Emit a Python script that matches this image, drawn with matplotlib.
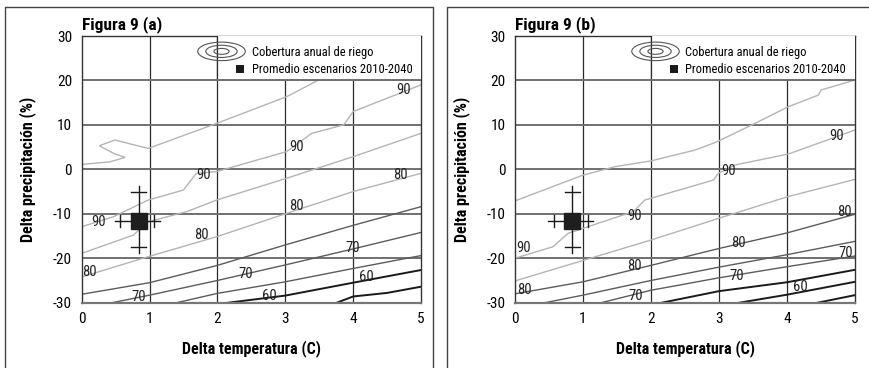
import matplotlib
matplotlib.use("Agg")
import matplotlib.pyplot as plt
from matplotlib.legend_handler import HandlerBase
from matplotlib.lines import Line2D
from matplotlib.patches import Ellipse, Rectangle

plt.rcParams["font.family"] = ["Roboto Condensed", "DejaVu Sans"]
plt.rcParams["axes.unicode_minus"] = False

# ---- panel (a): contour lines of annual irrigation coverage (%) ----
a95_t = [0, 0.42, 0.64, 0.49, 0.26, 0.49, 0.98, 1.99, 3.02, 3.51]
a95_p = [1.1, 1.7, 2.7, 3.45, 5.3, 6.6, 4.7, 10.35, 16.35, 20.25]
a90_t = [0, 0.47, 0.98, 1.5, 1.69, 1.99, 3.02, 3.39, 3.86, 4.0, 5.0]
a90_p = [-12.9, -10.65, -6.9, -4.65, -0.9, -0.5, 4.0, 8.1, 10.0, 13.0, 19.0]
a85_t = [0, 0.76, 0.98, 1.55, 1.99, 3.02, 4.0, 5.0]
a85_p = [-18.9, -14.8, -11.8, -9.5, -6.9, -2.0, 2.85, 8.1]
a80_t = [0, 0.98, 1.99, 3.02, 4.0, 5.0]
a80_p = [-24.2, -19.65, -15.15, -9.9, -5.0, -0.9]
a75_t = [0, 1.0, 2.0, 3.0, 4.0, 5.0]
a75_p = [-28.1, -25.5, -21.6, -17.0, -12.6, -8.4]
a70_t = [0.45, 1.0, 2.0, 3.0, 4.0, 5.0]
a70_p = [-30, -28.3, -25.0, -21.5, -17.9, -14.2]
a65_t = [1.4, 2.0, 3.0, 4.0, 5.0]
a65_p = [-30, -27.9, -25.3, -22.3, -19.4]
a60_t = [2.16, 3.0, 4.0, 5.0]
a60_p = [-30, -28.4, -25.5, -22.65]
a55_t = [3.76, 4.0, 4.5, 5.0]
a55_p = [-30, -28.6, -27.8, -26.4]

a_lab_t = [0.25, 1.8, 3.17, 4.74, 0.12, 1.77, 3.16, 4.69, 0.84, 2.41, 4.0, 2.77, 4.2]
a_lab_p = [-11.8, -1.3, 5.1, 17.85, -23.0, -14.7, -8.3, -1.3, -28.7, -23.5, -17.7, -28.6, -24.2]
a_lab_txt = ["90", "90", "90", "90", "80", "80", "80", "80", "70", "70", "70", "60", "60"]

# ---- panel (b) ----
b95_t = [0, 1.0, 1.47, 2.0, 2.65, 2.97, 3.53, 4.02, 4.46, 4.5, 5.0]
b95_p = [-7.1, -1.3, 0.6, 1.9, 4.35, 6.2, 10.35, 14.1, 16.7, 17.85, 20.1]
b90_t = [0, 0.56, 0.78, 1.74, 1.91, 2.92, 2.99, 3.24, 4.02, 5.0]
b90_p = [-20.0, -17.4, -14.4, -9.5, -6.9, -2.4, -0.9, 1.0, 3.45, 8.85]
b85_t = [0, 1.0, 2.0, 3.0, 4.0, 5.0]
b85_p = [-25.1, -20.5, -15.9, -11.0, -6.2, -2.25]
b80_t = [0, 1.0, 2.0, 3.0, 4.0, 5.0]
b80_p = [-28.0, -25.3, -21.6, -17.8, -14.3, -10.1]
b75_t = [0.44, 1.0, 2.0, 3.0, 4.0, 5.0]
b75_p = [-30, -28.3, -25.0, -22.0, -19.2, -16.2]
b70_t = [1.27, 2.0, 3.0, 4.0, 5.0]
b70_p = [-30, -27.2, -24.4, -21.9, -19.5]
b65_t = [2.16, 3.0, 4.0, 5.0]
b65_p = [-30, -27.4, -25.4, -22.6]
b60_t = [3.3, 4.0, 5.0]
b60_p = [-30, -28.2, -25.3]
b55_t = [4.45, 5.0]
b55_p = [-30, -28.3]

b_lab_t = [0.13, 1.76, 3.14, 4.73, 0.14, 1.76, 3.28, 4.84, 1.78, 3.26, 4.86, 4.19]
b_lab_p = [-17.6, -10.6, -0.3, 7.5, -27.2, -21.8, -16.65, -9.7, -28.5, -24.0, -18.75, -26.55]
b_lab_txt = ["90", "90", "90", "90", "80", "80", "80", "80", "70", "70", "70", "60"]

# scenario mean 2010-2040 and its range (same in both panels)
mean_t, mean_p = 0.84, -11.6
range_t = [0.57, 1.07]
range_p = [-17.4, -5.2]

LIGHT, DARK, BLACK = "#b4b4b4", "#5c5c5c", "#1a1a1a"

panel_a = [
    (a95_t, a95_p, LIGHT), (a90_t, a90_p, LIGHT), (a85_t, a85_p, LIGHT),
    (a80_t, a80_p, LIGHT), (a75_t, a75_p, DARK), (a70_t, a70_p, DARK),
    (a65_t, a65_p, DARK), (a60_t, a60_p, BLACK), (a55_t, a55_p, BLACK),
]
panel_b = [
    (b95_t, b95_p, LIGHT), (b90_t, b90_p, LIGHT), (b85_t, b85_p, LIGHT),
    (b80_t, b80_p, DARK), (b75_t, b75_p, DARK), (b70_t, b70_p, DARK),
    (b65_t, b65_p, BLACK), (b60_t, b60_p, BLACK), (b55_t, b55_p, BLACK),
]


class HandlerRings(HandlerBase):
    def create_artists(self, legend, orig_handle, xdescent, ydescent, width, height, fontsize, trans):
        cx, cy = width / 2 - xdescent, height / 2 - ydescent
        return [
            Ellipse((cx, cy), width * s, height * 1.4 * s, fill=False, ec="#555555", lw=0.8, transform=trans)
            for s in (1.0, 0.66, 0.32)
        ]


class HandlerSquare(HandlerBase):
    def create_artists(self, legend, orig_handle, xdescent, ydescent, width, height, fontsize, trans):
        side = height * 0.62
        x0 = width - xdescent - side - 1
        return [Rectangle((x0, height / 2 - ydescent - side / 2), side, side, fc=BLACK, ec="none", transform=trans)]


def draw_panel(ax, lines, lab_t, lab_p, lab_txt, title):
    ax.set_xlim(0, 5)
    ax.set_ylim(-30, 30)
    ax.set_xticks(range(0, 6))
    ax.set_yticks(range(-30, 31, 10))
    ax.tick_params(length=0, labelsize=11, pad=7)
    for v in range(1, 5):
        ax.axvline(v, color="#2a2a2a", lw=0.9, zorder=1)
    for v in range(-20, 30, 10):
        ax.axhline(v, color="#707070", lw=1.4, zorder=1)
    for s in ax.spines.values():
        s.set_color("#333333")
        s.set_linewidth(1.0)
    ax.spines["bottom"].set_color("#777777")
    ax.spines["bottom"].set_linewidth(1.6)

    for t, p, c in lines:
        ax.plot(t, p, color=c, lw=1.4 if c == BLACK else 1.0, zorder=2, solid_joinstyle="miter")
    for t, p, s in zip(lab_t, lab_p, lab_txt):
        ax.text(t, p, s, ha="center", va="center", fontsize=10.5, color="#222222", zorder=5)

    # error cross for the scenario spread
    ext_t, ext_p = 0.08, 1.4
    cap_t, cap_p = 0.11, 1.4
    ax.plot([range_t[0] - ext_t, range_t[1] + ext_t], [mean_p, mean_p], color=BLACK, lw=1.0, zorder=6)
    ax.plot([mean_t, mean_t], [range_p[0] - ext_p, range_p[1] + ext_p], color=BLACK, lw=1.0, zorder=6)
    for t in range_t:
        ax.plot([t, t], [mean_p - cap_p, mean_p + cap_p], color=BLACK, lw=1.0, zorder=6)
    for p in range_p:
        ax.plot([mean_t - cap_t, mean_t + cap_t], [p, p], color=BLACK, lw=1.0, zorder=6)
    ax.plot(mean_t, mean_p, marker="s", ms=12, color="#1e1e1e", zorder=7, ls="none")

    # white legend box in the upper right cell block
    box_t0, box_p0 = 2, 20
    ax.add_patch(Rectangle((box_t0, box_p0), 5 - box_t0, 30 - box_p0, fc="white", ec="none", zorder=3))
    ax.plot([box_t0, box_t0], [box_p0, 30], color="#2a2a2a", lw=0.9, zorder=4)
    ax.plot([box_t0, 5], [box_p0, box_p0], color="#707070", lw=1.4, zorder=4)

    rings = Rectangle((0, 0), 1, 1)
    square = Rectangle((0, 0), 1, 1)
    ax.legend(
        [rings, square],
        ["Cobertura anual de riego", "Promedio escenarios 2010-2040"],
        handler_map={rings: HandlerRings(), square: HandlerSquare()},
        loc="upper right", bbox_to_anchor=(1.0, 1.0), frameon=False, fontsize=9,
        handlelength=3.8, handleheight=1.25, handletextpad=0.5, labelspacing=0.3,
        borderaxespad=0.3,
    ).set_zorder(8)

    ax.set_title(title, loc="left", fontweight="bold", fontsize=12.5, pad=5)
    ax.set_xlabel("Delta temperatura (C)", fontweight="bold", fontsize=11.5, labelpad=10)
    ax.set_ylabel("Delta precipitación (%)", fontweight="bold", fontsize=11.5, labelpad=12)


fig = plt.figure(figsize=(8.69, 3.68), dpi=100)
W, H = 869, 368
ax_a = fig.add_axes([81.7 / W, 1 - 302.7 / H, 339.3 / W, 266.7 / H])
ax_b = fig.add_axes([515 / W, 1 - 302.7 / H, 340 / W, 266.7 / H])
draw_panel(ax_a, panel_a, a_lab_t, a_lab_p, a_lab_txt, "Figura 9 (a)")
draw_panel(ax_b, panel_b, b_lab_t, b_lab_p, b_lab_txt, "Figura 9 (b)")

# panel frames (cut off at the bottom of the page)
frame_kw = dict(color="#444444", lw=1.0, transform=fig.transFigure)
fig.add_artist(Line2D([5 / W, 5 / W, 432.7 / W, 432.7 / W], [0, 1 - 7.3 / H, 1 - 7.3 / H, 0], **frame_kw))
fig.add_artist(Line2D([447.5 / W, 447.5 / W, 1], [0, 1 - 7.3 / H, 1 - 7.3 / H], **frame_kw))

fig.savefig("out.png", dpi=100)
